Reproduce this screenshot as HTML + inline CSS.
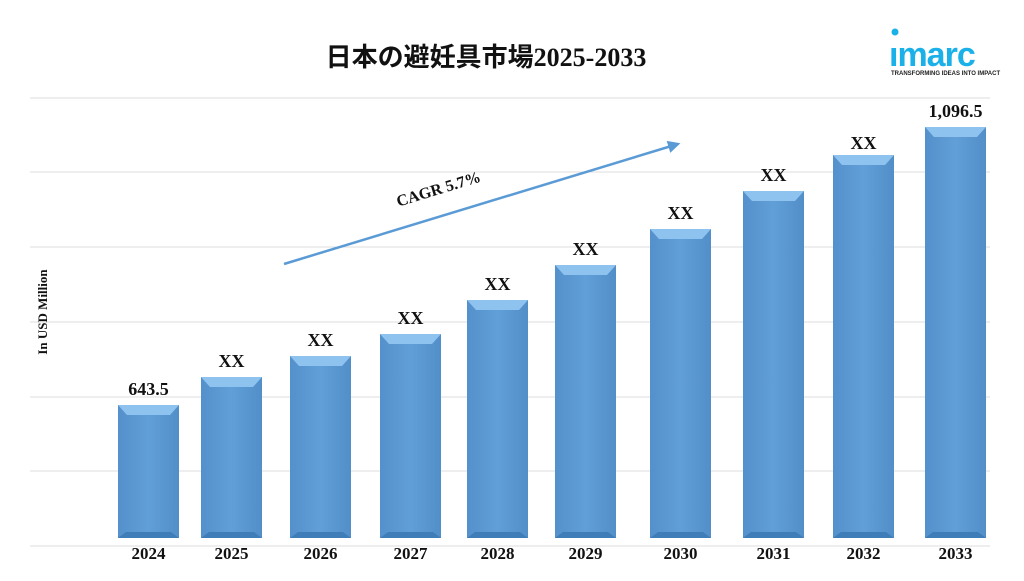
<!DOCTYPE html>
<html><head><meta charset="utf-8"><style>
body{margin:0;background:#fff;width:1024px;height:576px;overflow:hidden}
</style></head><body>
<svg width="1024" height="576" xmlns="http://www.w3.org/2000/svg" font-family="Liberation Serif, serif">
<defs>
<linearGradient id="g" x1="0" x2="1" y1="0" y2="0">
<stop offset="0" stop-color="#5490cb"/><stop offset="0.5" stop-color="#619fd8"/><stop offset="1" stop-color="#528ec8"/>
</linearGradient>
<marker id="ah" markerWidth="5" markerHeight="5" refX="4" refY="2.5" orient="auto"><path d="M0,0 L5,2.5 L0,5 z" fill="#5b9bd5"/></marker>
</defs>
<text x="486" y="66" text-anchor="middle" font-family="Liberation Serif, Noto Sans CJK JP, sans-serif" font-weight="bold" font-size="26" fill="#111">日本の避妊具市場2025-2033</text>
<g font-family="Liberation Sans, sans-serif" fill="#1ab0e8">
<circle cx="895" cy="32" r="3.5"/>
<text x="889" y="66" font-size="34" font-weight="bold" letter-spacing="-1">ımarc</text>
<text x="891" y="75" font-size="6" font-weight="bold" fill="#222">TRANSFORMING IDEAS INTO IMPACT</text>
</g>
<g stroke="#dcdcdc" stroke-width="1">
<line x1="30" x2="990" y1="98" y2="98"/><line x1="30" x2="990" y1="172" y2="172"/>
<line x1="30" x2="990" y1="247" y2="247"/><line x1="30" x2="990" y1="322" y2="322"/>
<line x1="30" x2="990" y1="397" y2="397"/><line x1="30" x2="990" y1="471" y2="471"/>
<line x1="30" x2="990" y1="546" y2="546"/>
</g>
<text transform="translate(47,312) rotate(-90)" text-anchor="middle" font-weight="bold" font-size="13" fill="#111">In USD Million</text>

<g fill="url(#g)">
<rect x="118" y="405" width="61" height="133"/>
<rect x="201" y="377" width="61" height="161"/>
<rect x="290" y="356" width="61" height="182"/>
<rect x="380" y="334" width="61" height="204"/>
<rect x="467" y="300" width="61" height="238"/>
<rect x="555" y="265" width="61" height="273"/>
<rect x="650" y="229" width="61" height="309"/>
<rect x="743" y="191" width="61" height="347"/>
<rect x="833" y="155" width="61" height="383"/>
<rect x="925" y="127" width="61" height="411"/>
</g>
<g fill="#8ec3ef">
<polygon points="118,405 179,405 170,415 127,415"/>
<polygon points="201,377 262,377 253,387 210,387"/>
<polygon points="290,356 351,356 342,366 299,366"/>
<polygon points="380,334 441,334 432,344 389,344"/>
<polygon points="467,300 528,300 519,310 476,310"/>
<polygon points="555,265 616,265 607,275 564,275"/>
<polygon points="650,229 711,229 702,239 659,239"/>
<polygon points="743,191 804,191 795,201 752,201"/>
<polygon points="833,155 894,155 885,165 842,165"/>
<polygon points="925,127 986,127 977,137 934,137"/>
</g>
<g fill="#3f7db8">
<polygon points="118,538 179,538 171,532 126,532"/>
<polygon points="201,538 262,538 254,532 209,532"/>
<polygon points="290,538 351,538 343,532 298,532"/>
<polygon points="380,538 441,538 433,532 388,532"/>
<polygon points="467,538 528,538 520,532 475,532"/>
<polygon points="555,538 616,538 608,532 563,532"/>
<polygon points="650,538 711,538 703,532 658,532"/>
<polygon points="743,538 804,538 796,532 751,532"/>
<polygon points="833,538 894,538 886,532 841,532"/>
<polygon points="925,538 986,538 978,532 933,532"/>
</g>
<g text-anchor="middle" font-weight="bold" font-size="18" fill="#111">
<text x="148.5" y="395">643.5</text>
<text x="231.5" y="367">XX</text>
<text x="320.5" y="346">XX</text>
<text x="410.5" y="324">XX</text>
<text x="497.5" y="290">XX</text>
<text x="585.5" y="255">XX</text>
<text x="680.5" y="219">XX</text>
<text x="773.5" y="181">XX</text>
<text x="863.5" y="149">XX</text>
<text x="955.5" y="117">1,096.5</text>
</g>
<g text-anchor="middle" font-weight="bold" font-size="17" fill="#111">
<text x="148.5" y="559">2024</text>
<text x="231.5" y="559">2025</text>
<text x="320.5" y="559">2026</text>
<text x="410.5" y="559">2027</text>
<text x="497.5" y="559">2028</text>
<text x="585.5" y="559">2029</text>
<text x="680.5" y="559">2030</text>
<text x="773.5" y="559">2031</text>
<text x="863.5" y="559">2032</text>
<text x="955.5" y="559">2033</text>
</g>
<line x1="284" y1="264" x2="678" y2="144" stroke="#5b9bd5" stroke-width="2.5" marker-end="url(#ah)"/>
<text transform="translate(440,194) rotate(-17)" text-anchor="middle" font-weight="bold" font-size="16" fill="#111">CAGR 5.7%</text>
</svg>
</body></html>
